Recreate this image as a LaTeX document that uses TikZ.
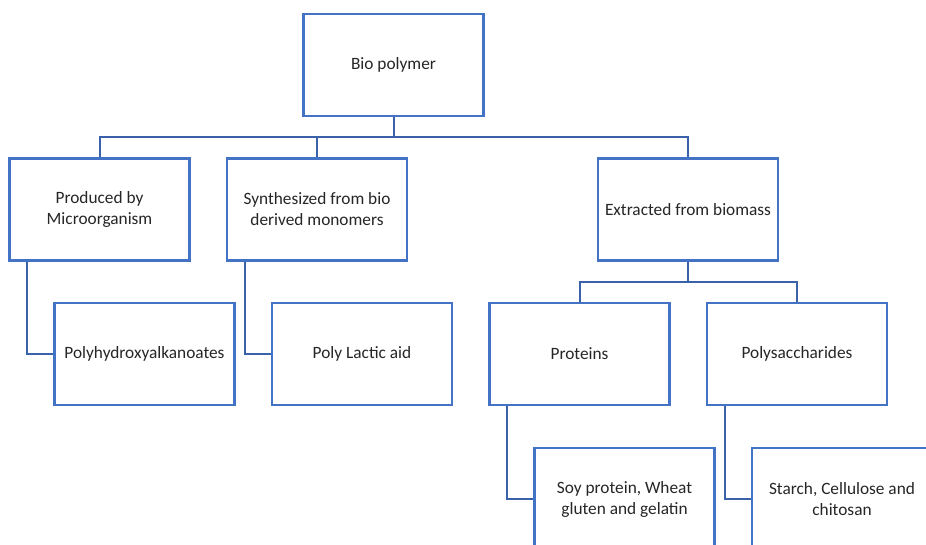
\documentclass[tikz,border=0pt]{standalone}
\usepackage{fontspec}
\setmainfont{Carlito}
\definecolor{boxblue}{HTML}{4472C4}
\definecolor{lineblue}{HTML}{3A62AA}
\begin{document}
\begin{tikzpicture}[x=1pt,y=-1pt,
  box/.style={draw=boxblue,line width=2.2pt,fill=white,minimum width=180pt,minimum height=102pt,
    align=center,font=\fontsize{17.3}{21}\selectfont,inner sep=0pt,text=black!85},
  conn/.style={draw=lineblue,line width=2pt}]
\useasboundingbox (0,0) rectangle (926,545);
\clip (0,0) rectangle (926,545);
\node[box] (bio) at (393.5,65) {Bio polymer};
\node[box] (prod) at (99.5,209.5) {Produced by\\Microorganism};
\node[box] (synt) at (317,209.5) {Synthesized from bio\\derived monomers};
\node[box] (extr) at (688,209.5) {Extracted from biomass};
\node[box] (pha) at (144.5,354) {Polyhydroxyalkanoates};
\node[box] (pla) at (362,354) {Poly Lactic aid};
\node[box] (prot) at (579.5,354) {Proteins};
\node[box] (poly) at (797,354) {Polysaccharides};
\node[box] (soy) at (624.5,499) {Soy protein, Wheat\\gluten and gelatin};
\node[box] (star) at (842,499) {Starch, Cellulose and\\chitosan};
\coordinate (bus) at (393.5,137);
\coordinate (sbus) at (688,282);
\draw[conn] (bio.south) -- (bus);
\draw[conn] (bus) -| (prod.north);
\draw[conn] (bus) -| (synt.north);
\draw[conn] (bus) -| (extr.north);
\draw[conn] (extr.south) -- (sbus);
\draw[conn] (sbus) -| (prot.north);
\draw[conn] (sbus) -| (poly.north);
\draw[conn] ([xshift=-72.5pt]prod.south) |- (pha.west);
\draw[conn] ([xshift=-72pt]synt.south) |- (pla.west);
\draw[conn] ([xshift=-72.5pt]prot.south) |- (soy.west);
\draw[conn] ([xshift=-72pt]poly.south) |- (star.west);
\end{tikzpicture}
\end{document}
